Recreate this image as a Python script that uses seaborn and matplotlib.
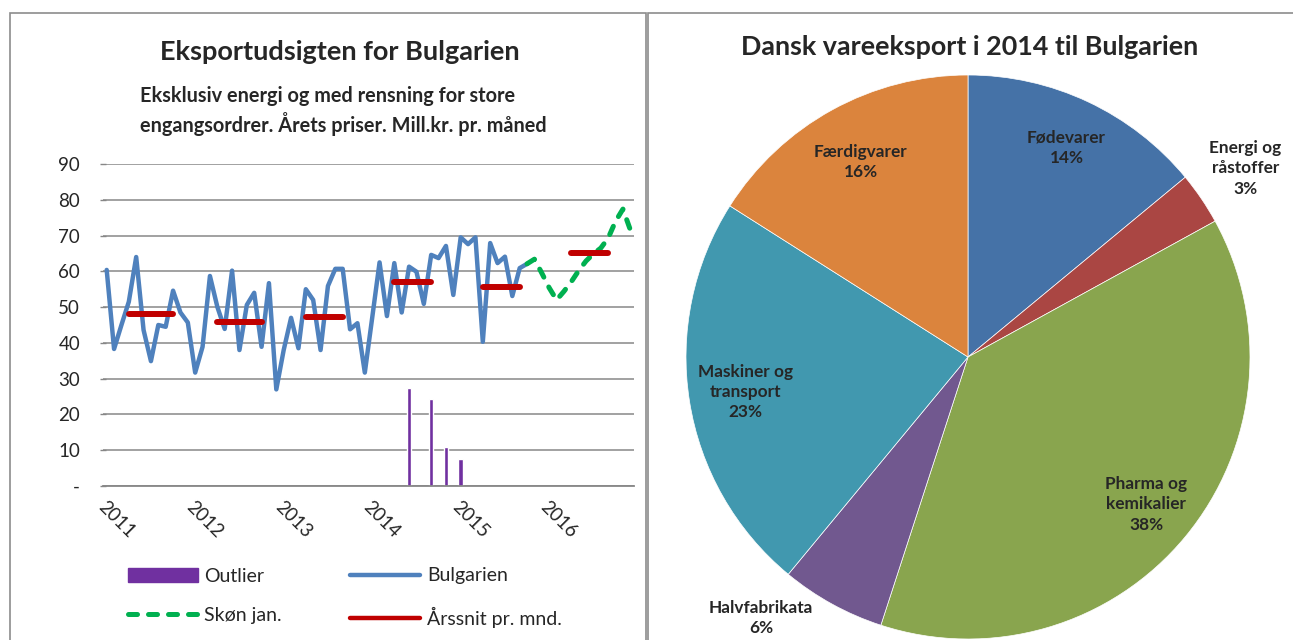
import matplotlib
matplotlib.use('Agg')
import numpy as np
import pandas as pd
import matplotlib.pyplot as plt
import seaborn as sns
from matplotlib.patches import Patch, Rectangle
from matplotlib.lines import Line2D

# Data: monthly export, month index 0 = jan 2011
years = ['2011', '2012', '2013', '2014', '2015', '2016']
bulgarien = [60.4, 38.3, 45.0, 51.5, 64.0, 43.6, 34.9, 45.0, 44.5, 54.6, 48.5, 45.7,
             31.7, 38.9, 58.7, 50.1, 43.9, 60.2, 38.0, 50.6, 54.0, 38.9, 56.7, 27.0,
             38.0, 47.0, 38.5, 55.0, 52.0, 38.0, 55.9, 60.7, 60.7, 43.8, 45.5, 31.7,
             47.0, 62.5, 47.5, 62.3, 48.5, 61.3, 59.9, 50.9, 64.6, 63.7, 67.1, 53.4,
             69.5, 67.6, 69.5, 40.3, 67.9, 62.3, 64.1, 53.1, 60.9, 62.1]
skon_start = 57
skon = [62.1, 63.4, 59.5, 55.4, 52.0, 54.4, 57.1, 60.2, 62.9, 64.9, 66.5, 69.3, 74.0, 77.4, 71.6]
aarssnit = [48.0, 45.7, 47.3, 57.1, 55.5, 65.1]
aarssnit_start = [3, 15, 27, 39, 51, 63]
aarssnit_end = [9, 21, 32, 44, 56, 68]
outlier_month = [41, 44, 46, 48]
outlier_value = [27.3, 24.3, 11.0, 7.6]

pie_labels = ['Fødevarer', 'Energi og\nråstoffer', 'Pharma og\nkemikalier',
              'Halvfabrikata', 'Maskiner og\ntransport', 'Færdigvarer']
pie_values = [14, 3, 38, 6, 23, 16]
pie_colors = ['#4572A7', '#AA4643', '#89A54E', '#71588F', '#4198AF', '#DB843D']
label_r = [0.82, 1.19, 0.82, 1.18, 0.80, 0.79]
label_shift = [0, 0, 0, -9.6, 0, 0]

sns.set_theme(style='white')
plt.rcParams['font.family'] = ['Lato', 'DejaVu Sans']

W, H = 1293, 640
fig = plt.figure(figsize=(W / 100, H / 100), dpi=100)

grey = '#878787'
blue = '#4F81BD'
red = '#C00000'
green = '#00B050'
purple = '#7030A0'

# panel borders
fig.patches.append(Rectangle((10 / W, -0.1), 636 / W, 1.1 - 13 / H, transform=fig.transFigure,
                             fill=False, edgecolor='#8c8c8c', linewidth=1.2))
fig.patches.append(Rectangle((648 / W, -0.1), 1.0, 1.1 - 13 / H, transform=fig.transFigure,
                             fill=False, edgecolor='#8c8c8c', linewidth=1.2))

# ---- left: line chart ----
ax = fig.add_axes([103 / W, 1 - 486 / H, 531 / W, 322 / H])
ax.set_facecolor('none')

df_b = pd.DataFrame({'maaned': np.arange(len(bulgarien)), 'vaerdi': bulgarien})
df_s = pd.DataFrame({'maaned': np.arange(skon_start, skon_start + len(skon)), 'vaerdi': skon})
rows = []
for i, v in enumerate(aarssnit):
    rows.append({'aar': years[i], 'maaned': aarssnit_start[i], 'vaerdi': v})
    rows.append({'aar': years[i], 'maaned': aarssnit_end[i], 'vaerdi': v})
df_r = pd.DataFrame(rows)

ax.bar(outlier_month, outlier_value, width=0.6, color=purple, zorder=2)
sns.lineplot(data=df_b, x='maaned', y='vaerdi', ax=ax, color=blue, linewidth=3.2,
             solid_capstyle='round', solid_joinstyle='round', zorder=3)
sns.lineplot(data=df_s, x='maaned', y='vaerdi', ax=ax, color=green, linewidth=3.6,
             zorder=3)
ax.lines[-1].set_dashes((1.8, 2.2))
ax.lines[-1].set_dash_capstyle('round')
sns.lineplot(data=df_r, x='maaned', y='vaerdi', units='aar', estimator=None, ax=ax,
             color=red, linewidth=4.3, solid_capstyle='round', zorder=4)

ax.set_xlim(-0.5, 71.5)
ax.set_ylim(0, 90)
ax.set_yticks(np.arange(0, 91, 10))
ax.set_yticklabels(['-'] + [str(v) for v in range(10, 91, 10)], fontsize=13.5)
ax.set_xticks(np.arange(0, 72, 12))
ax.set_xticklabels(years, fontsize=13.5, rotation=-45, ha='left', va='top',
                   rotation_mode='anchor')
ax.tick_params(axis='y', length=5, color=grey, width=1, pad=14, left=True, direction='inout')
ax.tick_params(axis='x', length=0, pad=9)
ax.set_xlabel('')
ax.set_ylabel('')
ax.grid(axis='y', color=grey, linewidth=1.1)
ax.set_axisbelow(True)
for s in ['left', 'right', 'top']:
    ax.spines[s].set_visible(False)
ax.spines['bottom'].set_color(grey)
ax.spines['bottom'].set_linewidth(1.3)

handles = [Patch(color=purple),
           Line2D([0], [0], color=green, linewidth=3.6, dashes=(1.8, 2.2), dash_capstyle='round'),
           Line2D([0], [0], color=blue, linewidth=3.2, solid_capstyle='round'),
           Line2D([0], [0], color=red, linewidth=3.2, solid_capstyle='round')]
fig.legend(handles, ['Outlier', 'Skøn jan.', 'Bulgarien', 'Årssnit pr. mnd.'], ncol=2,
           loc='upper left', bbox_to_anchor=(110 / W, 1 - 550 / H), frameon=False,
           fontsize=14, handlelength=3.6, handletextpad=0.35, columnspacing=3.5,
           labelspacing=1.15)

fig.text(340 / W, 1 - 52 / H, 'Eksportudsigten for Bulgarien', ha='center', va='center',
         fontsize=19.5, fontweight='bold')
fig.text(140 / W, 1 - 111 / H,
         'Eksklusiv energi og med rensning for store\nengangsordrer. Årets priser. Mill.kr. pr. måned',
         ha='left', va='center', fontsize=14.3, fontweight='bold', linespacing=1.25)

# ---- right: pie chart ----
R = 282
cx, cy = 968, 357
ax2 = fig.add_axes([(cx - R) / W, (H - cy - R) / H, 2 * R / W, 2 * R / H])
wedges, _ = ax2.pie(pie_values, colors=pie_colors, startangle=90, counterclock=False,
                    radius=1, wedgeprops=dict(edgecolor='white', linewidth=0.5))
ax2.set_xlim(-1, 1)
ax2.set_ylim(-1, 1)
for w, lab, val, r, sh in zip(wedges, pie_labels, pie_values, label_r, label_shift):
    th = np.deg2rad((w.theta1 + w.theta2) / 2 + sh)
    ax2.text(r * np.cos(th), r * np.sin(th), f'{lab}\n{val}%', ha='center', va='center',
             fontsize=12.4, fontweight='bold', linespacing=1.32, clip_on=False)

fig.text(970 / W, 1 - 47 / H, 'Dansk vareeksport i 2014 til Bulgarien', ha='center',
         va='center', fontsize=19.4, fontweight='bold')

fig.savefig('out.png', dpi=100)
